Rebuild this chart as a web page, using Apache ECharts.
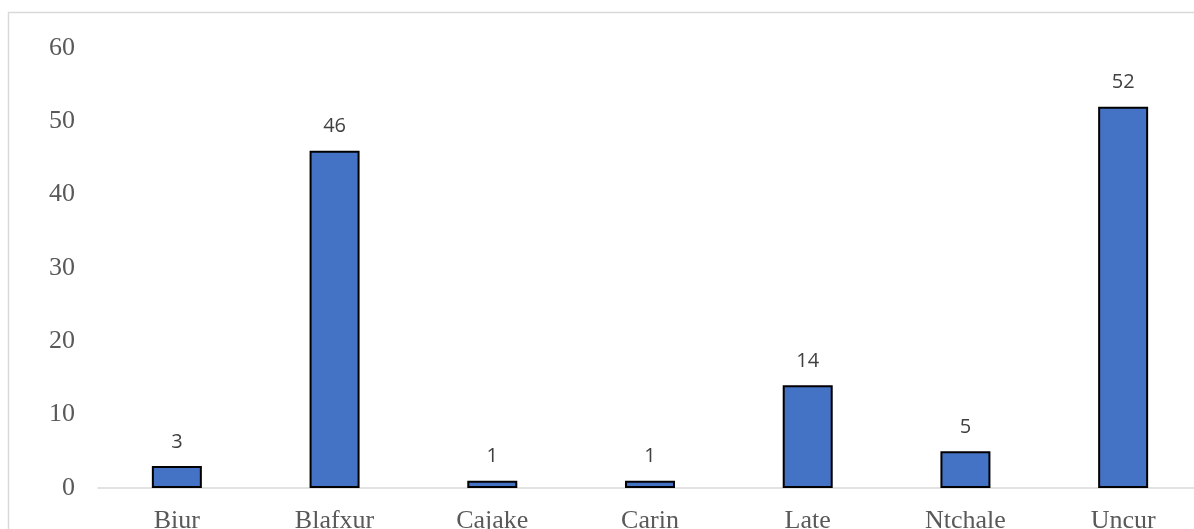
<!DOCTYPE html>
<html><head><meta charset="utf-8">
<script src="https://cdn.jsdelivr.net/npm/echarts@6/dist/echarts.min.js"></script>
<style>html,body{margin:0;padding:0;background:#fff;}#c{width:1194px;height:529px;}</style>
</head><body><div id="c"></div>
<script>
const categories = ["Biur","Blafxur","Cajake","Carin","Late","Ntchale","Uncur"];
const values = [3,46,1,1,14,5,52];
const yTicks = [0,10,20,30,40,50,60];

const chart = echarts.init(document.getElementById('c'), null, {renderer:'canvas'});
chart.setOption({
  animation:false,
  backgroundColor:'#ffffff',
  graphic:[{type:'rect', shape:{x:8.5,y:12.5,width:1200,height:540}, style:{fill:'none', stroke:'#d9d9d9', lineWidth:1.5}, silent:true}],
  grid:{left:98, top:48, width:1104, height:440, containLabel:false, outerBoundsMode:'none'},
  xAxis:{type:'category', data:categories,
    axisLine:{lineStyle:{color:'#d9d9d9', width:1.5}},
    axisTick:{show:false},
    axisLabel:{fontFamily:'Liberation Serif', fontSize:26, color:'#595959', margin:20}},
  yAxis:{type:'value', min:yTicks[0], max:yTicks[yTicks.length-1], interval:10,
    axisLine:{show:false}, axisTick:{show:false}, splitLine:{show:false},
    axisLabel:{fontFamily:'Liberation Serif', fontSize:26, color:'#595959', margin:23}},
  series:[{type:'bar', data:values, barWidth:50,
    itemStyle:{color:'#4472c4', borderColor:'#000000', borderWidth:2},
    label:{show:true, position:'top', distance:14, fontFamily:'Open Sans', fontSize:20, color:'#404040'}}]
});
</script></body></html>
